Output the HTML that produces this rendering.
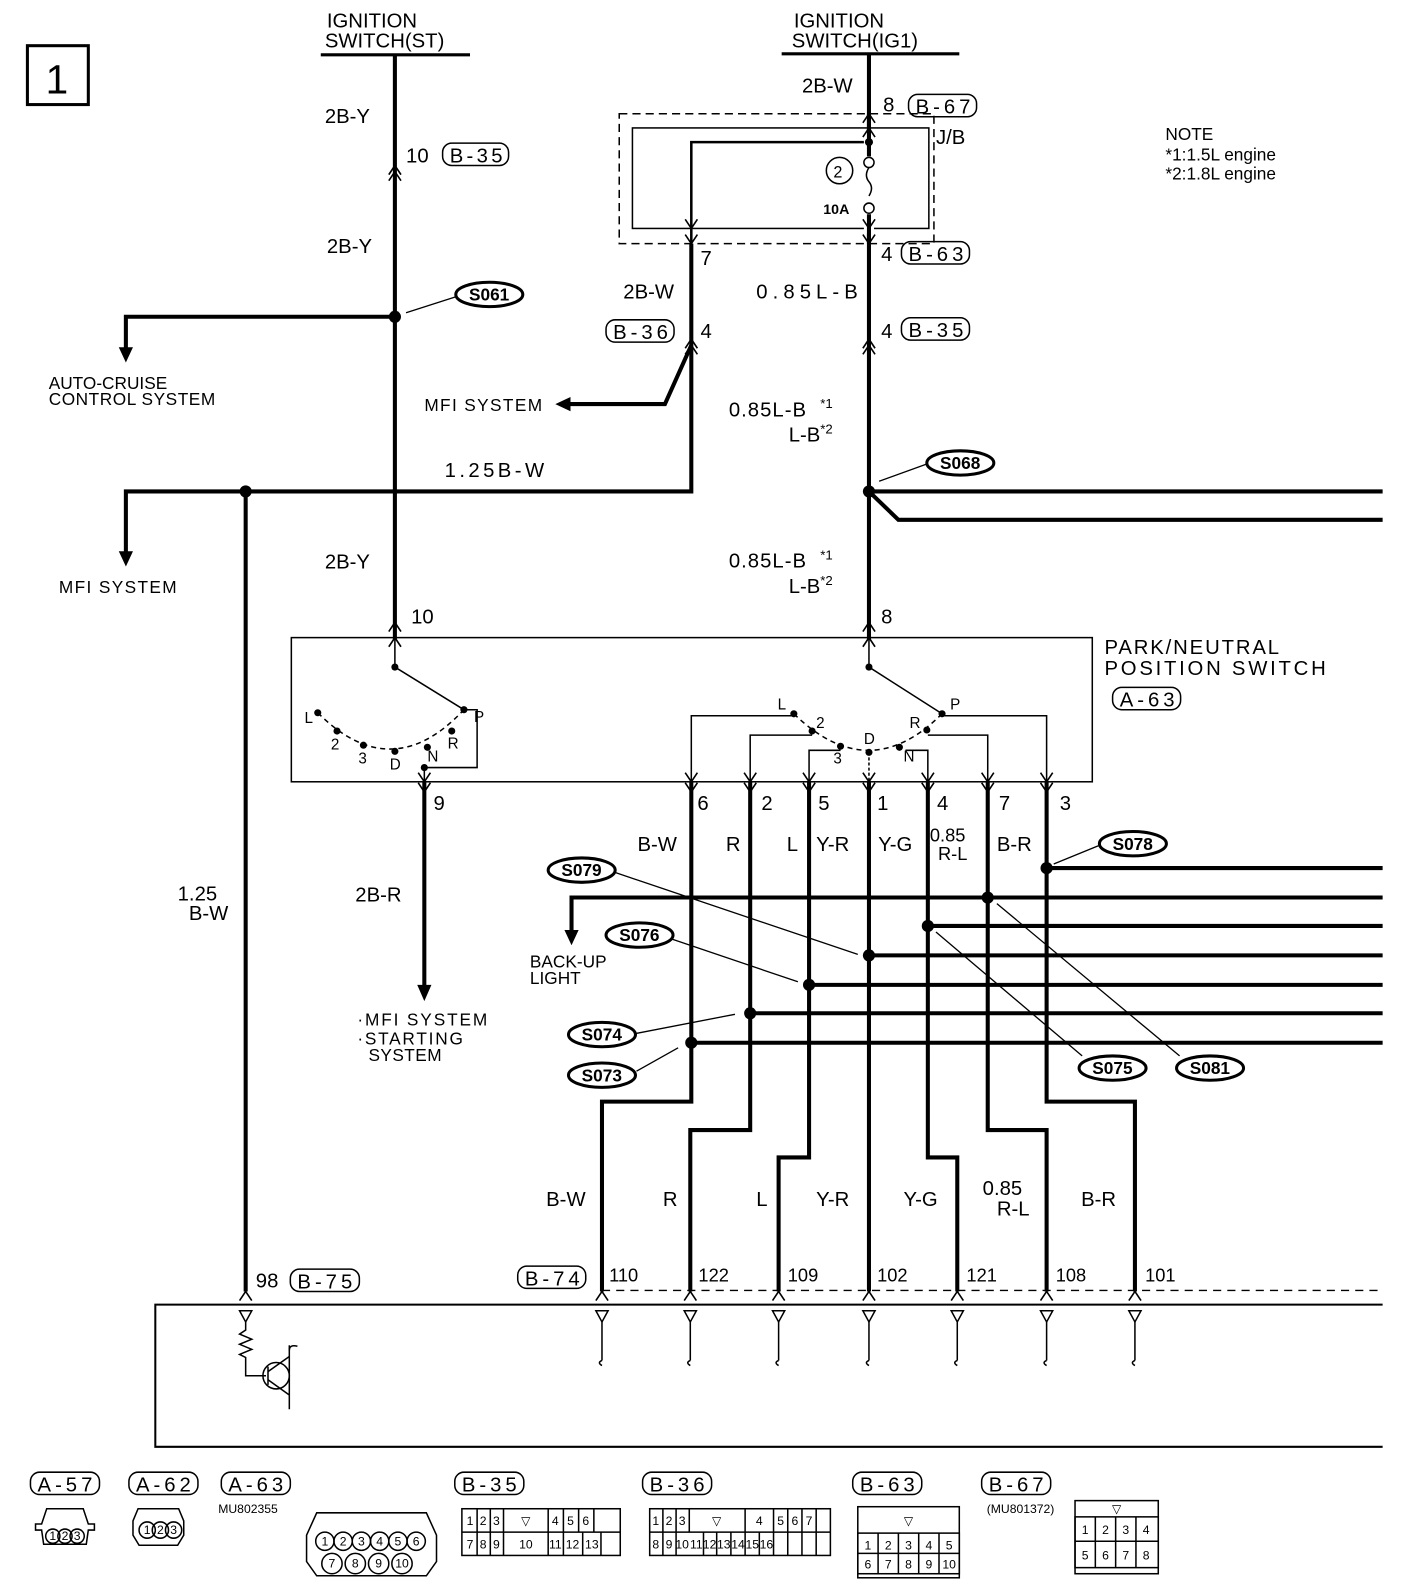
<!DOCTYPE html>
<html><head><meta charset="utf-8"><style>
html,body{margin:0;padding:0;background:#fff;}
svg{display:block}
text{font-family:"Liberation Sans",sans-serif;fill:#000}
</style></head><body>
<svg width="1408" height="1592" viewBox="0 0 1387 1568" preserveAspectRatio="none" xmlns="http://www.w3.org/2000/svg">
<defs>
<g id="up"><polyline points="-6,9 0,0 6,9" fill="none" stroke="#000" stroke-width="1.6"/></g>
<g id="dn"><polyline points="-6,-9 0,0 6,-9" fill="none" stroke="#000" stroke-width="1.6"/></g>
<g id="dup"><polyline points="-6,9 0,0 6,9" fill="none" stroke="#000" stroke-width="1.6"/><polyline points="-6,15 0,6 6,15" fill="none" stroke="#000" stroke-width="1.6"/></g>
</defs>
<g font-size="20">
<rect x="27" y="45" width="60" height="58" fill="none" stroke="#000" stroke-width="3"/>
<text x="45" y="92" font-size="40">1</text>

<text x="322" y="27">IGNITION</text><text x="320" y="47">SWITCH(ST)</text>
<line x1="316" y1="54" x2="463" y2="54" stroke="#000" stroke-width="3"/>
<text x="782" y="27">IGNITION</text><text x="780" y="47">SWITCH(IG1)</text>
<line x1="770" y1="53" x2="945" y2="53" stroke="#000" stroke-width="3"/>

<text x="1148" y="138" font-size="17">NOTE</text>
<text x="1148" y="158" font-size="17">*1:1.5L engine</text>
<text x="1148" y="177" font-size="17">*2:1.8L engine</text>

<g stroke="#000" stroke-width="4" fill="none">
<line x1="389" y1="54" x2="389" y2="630"/>
<polyline points="389,312 124,312 124,345"/>
<polyline points="124,545 124,484 681,484 681,240"/>
<line x1="242" y1="484" x2="242" y2="1272"/>
<polyline points="681,340 655,398 560,398"/>
<line x1="856" y1="54" x2="856" y2="630"/>
<line x1="856" y1="484" x2="1362" y2="484"/>
<polyline points="856,484 885,512 1362,512"/>
<line x1="418" y1="770" x2="418" y2="972"/>
<polyline points="681,770 681,1085 593,1085 593,1272"/>
<polyline points="739,770 739,1113 680,1113 680,1272"/>
<polyline points="797,770 797,1140 767,1140 767,1272"/>
<line x1="856" y1="770" x2="856" y2="1272"/>
<polyline points="914,770 914,1140 943,1140 943,1272"/>
<polyline points="973,770 973,1113 1031,1113 1031,1272"/>
<polyline points="1031,770 1031,1085 1118,1085 1118,1272"/>
<line x1="1031" y1="855" x2="1362" y2="855"/>
<polyline points="563,918 563,884 1362,884"/>
<line x1="914" y1="912" x2="1362" y2="912"/>
<line x1="856" y1="941" x2="1362" y2="941"/>
<line x1="797" y1="970" x2="1362" y2="970"/>
<line x1="739" y1="998" x2="1362" y2="998"/>
<line x1="681" y1="1027" x2="1362" y2="1027"/>
</g>
<g fill="#000">
<polygon points="117,342 131,342 124,357"/>
<polygon points="117,543 131,543 124,558"/>
<polygon points="562,391 562,405 547,398"/>
<polygon points="411,970 425,970 418,986"/>
<polygon points="556,916 570,916 563,931"/>
<circle cx="389" cy="312" r="6"/><circle cx="242" cy="484" r="6"/><circle cx="856" cy="484" r="6"/>
<circle cx="1031" cy="855" r="6"/><circle cx="973" cy="884" r="6"/><circle cx="914" cy="912" r="6"/>
<circle cx="856" cy="941" r="6"/><circle cx="797" cy="970" r="6"/><circle cx="739" cy="998" r="6"/><circle cx="681" cy="1027" r="6"/>
</g>

<rect x="610" y="112" width="310" height="128" fill="none" stroke="#000" stroke-width="1.5" stroke-dasharray="8,5"/>
<rect x="623" y="126" width="292" height="99" fill="none" stroke="#000" stroke-width="1.5"/>
<polyline points="681,240 681,140 856,140" fill="none" stroke="#000" stroke-width="2.5"/>
<rect x="851" y="130" width="10" height="100" fill="#fff"/>
<line x1="856" y1="112" x2="856" y2="154" stroke="#000" stroke-width="4"/>
<line x1="856" y1="211" x2="856" y2="240" stroke="#000" stroke-width="4"/>
<circle cx="856" cy="140" r="4"/>
<circle cx="856" cy="160" r="5" fill="#fff" stroke="#000" stroke-width="1.5"/>
<path d="M856,165 q-5,8 0,14 q5,6 0,14 " fill="none" stroke="#000" stroke-width="1.5"/>
<circle cx="856" cy="205" r="5" fill="#fff" stroke="#000" stroke-width="1.5"/>
<circle cx="827" cy="168" r="13" fill="none" stroke="#000" stroke-width="1.5"/>
<text x="821" y="175" font-size="16">2</text>
<text x="811" y="211" font-size="14" font-weight="bold">10A</text>
<text x="922" y="142">J/B</text>
<use href="#up" x="856" y="112"/><use href="#up" x="856" y="126"/>
<use href="#dn" x="681" y="225"/><use href="#dn" x="681" y="240"/>
<use href="#dn" x="856" y="225"/><use href="#dn" x="856" y="240"/>
<use href="#dup" x="389" y="163"/><use href="#dup" x="856" y="334"/><use href="#dup" x="681" y="334"/>

<text x="320" y="121">2B-Y</text>
<text x="400" y="160">10</text>
<rect x="436" y="141" width="65" height="22" rx="9" fill="none" stroke="#000" stroke-width="1.5"/><text x="443" y="160" textLength="52">B-35</text>
<text x="322" y="249">2B-Y</text>
<text x="790" y="91">2B-W</text>
<text x="870" y="110">8</text>
<rect x="895" y="93" width="67" height="22" rx="9" fill="none" stroke="#000" stroke-width="1.5"/><text x="902" y="112" textLength="54">B-67</text>
<text x="690" y="261">7</text>
<text x="868" y="257">4</text>
<rect x="888" y="238" width="67" height="22" rx="9" fill="none" stroke="#000" stroke-width="1.5"/><text x="895" y="257" textLength="54">B-63</text>
<text x="614" y="294">2B-W</text>
<text x="745" y="294" textLength="100">0.85L-B</text>
<rect x="597" y="315" width="67" height="22" rx="9" fill="none" stroke="#000" stroke-width="1.5"/><text x="604" y="334" textLength="54">B-36</text>
<text x="690" y="333">4</text>
<text x="868" y="333">4</text>
<rect x="888" y="313" width="67" height="22" rx="9" fill="none" stroke="#000" stroke-width="1.5"/><text x="895" y="332" textLength="54">B-35</text>
<text x="48" y="383" font-size="17">AUTO-CRUISE</text>
<text x="48" y="399" font-size="17" textLength="164">CONTROL SYSTEM</text>
<text x="418" y="405" font-size="17" textLength="116">MFI SYSTEM</text>
<text x="718" y="410" textLength="76">0.85L-B</text><text x="808" y="402" font-size="13">*1</text>
<text x="777" y="435">L-B</text><text x="808" y="427" font-size="13">*2</text>
<text x="438" y="470" textLength="98">1.25B-W</text>
<text x="58" y="584" font-size="17" textLength="116">MFI SYSTEM</text>
<text x="320" y="560">2B-Y</text>
<text x="718" y="559" textLength="76">0.85L-B</text><text x="808" y="551" font-size="13">*1</text>
<text x="777" y="584">L-B</text><text x="808" y="576" font-size="13">*2</text>
<text x="405" y="614">10</text><text x="868" y="614">8</text>

<g stroke="#000" stroke-width="1.3" fill="none">
<line x1="453" y1="291" x2="400" y2="308"/>
<line x1="913" y1="457" x2="866" y2="474"/>
<line x1="605" y1="859" x2="845" y2="940"/>
<line x1="662" y1="925" x2="786" y2="967"/>
<line x1="626" y1="1018" x2="724" y2="999"/>
<line x1="627" y1="1055" x2="668" y2="1032"/>
<line x1="1082" y1="833" x2="1038" y2="851"/>
<line x1="1066" y1="1040" x2="922" y2="918"/>
<line x1="1162" y1="1040" x2="982" y2="890"/>
</g>
<g stroke="#000" stroke-width="3" fill="#fff">
<ellipse cx="482" cy="290" rx="33" ry="12"/><ellipse cx="946" cy="456" rx="33" ry="12"/>
<ellipse cx="1116" cy="831" rx="33" ry="12"/><ellipse cx="573" cy="857" rx="33" ry="12"/>
<ellipse cx="630" cy="921" rx="33" ry="12"/><ellipse cx="593" cy="1019" rx="33" ry="12"/>
<ellipse cx="593" cy="1059" rx="33" ry="12"/><ellipse cx="1096" cy="1052" rx="33" ry="12"/>
<ellipse cx="1192" cy="1052" rx="33" ry="12"/>
</g>
<g font-weight="bold" font-size="17">
<text x="462" y="296">S061</text><text x="926" y="462">S068</text><text x="1096" y="837">S078</text>
<text x="553" y="863">S079</text><text x="610" y="927">S076</text><text x="573" y="1025">S074</text>
<text x="573" y="1065">S073</text><text x="1076" y="1058">S075</text><text x="1172" y="1058">S081</text>
</g>

<rect x="287" y="628" width="789" height="142" fill="none" stroke="#000" stroke-width="1.5"/>
<text x="1088" y="644" textLength="172">PARK/NEUTRAL</text><text x="1088" y="665" textLength="218">POSITION SWITCH</text>
<rect x="1096" y="677" width="67" height="22" rx="9" fill="none" stroke="#000" stroke-width="1.5"/><text x="1103" y="696" textLength="54">A-63</text>
<use href="#up" x="389" y="628"/><use href="#up" x="389" y="613"/>
<use href="#up" x="856" y="628"/><use href="#up" x="856" y="613"/>
<g stroke="#000" stroke-width="1.5" fill="none">
<polyline points="389,628 389,657 457,699"/>
<path d="M313,702 Q386,775 457,699" stroke-dasharray="5,4"/>
<polyline points="418,770 418,756 470,756 470,699 457,699"/>
<polyline points="856,628 856,657 928,703"/>
<path d="M782,703 Q856,775 928,703" stroke-dasharray="5,4"/>
<polyline points="681,770 681,705 782,705"/>
<polyline points="739,770 739,724 800,724"/>
<polyline points="797,770 797,739 828,739"/>
<line x1="856" y1="741" x2="856" y2="770" stroke-dasharray="3,2"/>
<polyline points="914,770 914,739 892,739"/>
<polyline points="973,770 973,724 914,724"/>
<polyline points="1031,770 1031,705 928,705"/>
</g>
<g fill="#000">
<circle cx="313" cy="702" r="3.5"/><circle cx="332" cy="720" r="3.5"/><circle cx="358" cy="734" r="3.5"/><circle cx="389" cy="740" r="3.5"/><circle cx="421" cy="736" r="3.5"/><circle cx="445" cy="720" r="3.5"/><circle cx="457" cy="699" r="3.5"/><circle cx="418" cy="756" r="3.5"/><circle cx="389" cy="657" r="3.5"/>
<circle cx="782" cy="703" r="3.5"/><circle cx="800" cy="720" r="3.5"/><circle cx="828" cy="735" r="3.5"/><circle cx="856" cy="741" r="3.5"/><circle cx="886" cy="736" r="3.5"/><circle cx="913" cy="719" r="3.5"/><circle cx="928" cy="703" r="3.5"/><circle cx="856" cy="657" r="3.5"/>
</g>
<g font-size="15">
<text x="300" y="712">L</text><text x="326" y="738">2</text><text x="353" y="752">3</text><text x="384" y="758">D</text><text x="421" y="750">N</text><text x="441" y="737">R</text><text x="467" y="711">P</text>
<text x="766" y="699">L</text><text x="804" y="717">2</text><text x="821" y="752">3</text><text x="851" y="733">D</text><text x="890" y="750">N</text><text x="896" y="717">R</text><text x="936" y="699">P</text>
</g>
<use href="#dn" x="418" y="770"/><use href="#dn" x="418" y="780"/>
<g><use href="#dn" x="681" y="770"/><use href="#dn" x="739" y="770"/><use href="#dn" x="797" y="770"/><use href="#dn" x="856" y="770"/><use href="#dn" x="914" y="770"/><use href="#dn" x="973" y="770"/><use href="#dn" x="1031" y="770"/>
<use href="#dn" x="681" y="780"/><use href="#dn" x="739" y="780"/><use href="#dn" x="797" y="780"/><use href="#dn" x="856" y="780"/><use href="#dn" x="914" y="780"/><use href="#dn" x="973" y="780"/><use href="#dn" x="1031" y="780"/></g>
<text x="427" y="798">9</text><text x="687" y="798">6</text><text x="750" y="798">2</text><text x="806" y="798">5</text><text x="864" y="798">1</text><text x="923" y="798">4</text><text x="984" y="798">7</text><text x="1044" y="798">3</text>
<text x="628" y="838">B-W</text><text x="715" y="838">R</text><text x="775" y="838">L</text><text x="804" y="838">Y-R</text><text x="865" y="838">Y-G</text>
<text x="916" y="829" font-size="18">0.85</text><text x="924" y="847" font-size="18">R-L</text><text x="982" y="838">B-R</text>
<text x="350" y="888">2B-R</text>
<text x="175" y="887">1.25</text><text x="186" y="906">B-W</text>
<text x="522" y="953" font-size="17">BACK-UP</text><text x="522" y="969" font-size="17">LIGHT</text>
<text x="352" y="1010" font-size="17" textLength="128">·MFI SYSTEM</text><text x="352" y="1029" font-size="17" textLength="104">·STARTING</text><text x="363" y="1045" font-size="17" textLength="72">SYSTEM</text>

<text x="538" y="1188">B-W</text><text x="653" y="1188">R</text><text x="745" y="1188">L</text><text x="804" y="1188">Y-R</text><text x="890" y="1188">Y-G</text>
<text x="968" y="1177">0.85</text><text x="982" y="1197">R-L</text><text x="1065" y="1188">B-R</text>
<text x="252" y="1268">98</text>
<rect x="286" y="1250" width="68" height="22" rx="9" fill="none" stroke="#000" stroke-width="1.5"/><text x="293" y="1269" textLength="54">B-75</text>
<rect x="510" y="1247" width="67" height="22" rx="9" fill="none" stroke="#000" stroke-width="1.5"/><text x="517" y="1266" textLength="54">B-74</text>
<g font-size="18"><text x="600" y="1262">110</text><text x="688" y="1262">122</text><text x="776" y="1262">109</text><text x="864" y="1262">102</text><text x="952" y="1262">121</text><text x="1040" y="1262">108</text><text x="1128" y="1262">101</text></g>

<line x1="593" y1="1271" x2="1362" y2="1271" stroke="#000" stroke-width="1.3" stroke-dasharray="8,6"/>
<polyline points="1362,1285 153,1285 153,1425 1362,1425" fill="none" stroke="#000" stroke-width="2"/>
<g>
<use href="#up" x="242" y="1272"/><use href="#up" x="593" y="1272"/><use href="#up" x="680" y="1272"/><use href="#up" x="767" y="1272"/><use href="#up" x="856" y="1272"/><use href="#up" x="943" y="1272"/><use href="#up" x="1031" y="1272"/><use href="#up" x="1118" y="1272"/>
</g>
<g stroke="#000" stroke-width="1.5" fill="none">
<path d="M236,1291 h12 l-6,11 z"/><polyline points="242,1302 242,1310 236,1314 248,1319 236,1324 248,1329 236,1334 242,1337 242,1355 262,1355"/>
<circle cx="272" cy="1355" r="13"/><line x1="264" y1="1346" x2="264" y2="1364"/><line x1="264" y1="1351" x2="285" y2="1336"/><line x1="264" y1="1359" x2="285" y2="1374"/><polyline points="285,1325 285,1388"/><path d="M285,1330 q0,-6 8,-4"/>
<path d="M587,1291 h12 l-6,11 z"/><line x1="593" y1="1302" x2="593" y2="1340"/><path d="M593,1340 q-5,2 0,5"/>
<path d="M674,1291 h12 l-6,11 z"/><line x1="680" y1="1302" x2="680" y2="1340"/><path d="M680,1340 q-5,2 0,5"/>
<path d="M761,1291 h12 l-6,11 z"/><line x1="767" y1="1302" x2="767" y2="1340"/><path d="M767,1340 q-5,2 0,5"/>
<path d="M850,1291 h12 l-6,11 z"/><line x1="856" y1="1302" x2="856" y2="1340"/><path d="M856,1340 q-5,2 0,5"/>
<path d="M937,1291 h12 l-6,11 z"/><line x1="943" y1="1302" x2="943" y2="1340"/><path d="M943,1340 q-5,2 0,5"/>
<path d="M1025,1291 h12 l-6,11 z"/><line x1="1031" y1="1302" x2="1031" y2="1340"/><path d="M1031,1340 q-5,2 0,5"/>
<path d="M1112,1291 h12 l-6,11 z"/><line x1="1118" y1="1302" x2="1118" y2="1340"/><path d="M1118,1340 q-5,2 0,5"/>
</g>

<g font-size="20">
<rect x="30" y="1450" width="68" height="22" rx="9" fill="none" stroke="#000" stroke-width="1.5"/><text x="37" y="1469" textLength="54">A-57</text>
<rect x="127" y="1450" width="68" height="22" rx="9" fill="none" stroke="#000" stroke-width="1.5"/><text x="134" y="1469" textLength="54">A-62</text>
<rect x="218" y="1450" width="68" height="22" rx="9" fill="none" stroke="#000" stroke-width="1.5"/><text x="225" y="1469" textLength="54">A-63</text>
<rect x="448" y="1450" width="68" height="22" rx="9" fill="none" stroke="#000" stroke-width="1.5"/><text x="455" y="1469" textLength="54">B-35</text>
<rect x="633" y="1450" width="68" height="22" rx="9" fill="none" stroke="#000" stroke-width="1.5"/><text x="640" y="1469" textLength="54">B-36</text>
<rect x="840" y="1450" width="68" height="22" rx="9" fill="none" stroke="#000" stroke-width="1.5"/><text x="847" y="1469" textLength="54">B-63</text>
<rect x="967" y="1450" width="68" height="22" rx="9" fill="none" stroke="#000" stroke-width="1.5"/><text x="974" y="1469" textLength="54">B-67</text>
</g>
<text x="215" y="1490" font-size="12">MU802355</text>
<text x="972" y="1490" font-size="12">(MU801372)</text>
<g stroke="#000" stroke-width="1.5" fill="none">
<path d="M46,1486 h36 l5,15 h6 v6 h-6 l-2,14 h-42 l-2,-14 h-6 v-6 h6 z"/>
<circle cx="52" cy="1513" r="7"/><circle cx="64" cy="1513" r="7"/><circle cx="76" cy="1513" r="7"/>
<path d="M136,1486 h40 l5,12 v14 l-6,10 h-38 l-6,-10 v-14 z"/>
<circle cx="145" cy="1507" r="8"/><circle cx="158" cy="1507" r="8"/><circle cx="171" cy="1507" r="8"/>
<path d="M312,1490 h108 l10,22 v26 l-10,14 h-108 l-10,-14 v-26 z"/>
<circle cx="320" cy="1518" r="9"/><circle cx="338" cy="1518" r="9"/><circle cx="356" cy="1518" r="9"/><circle cx="374" cy="1518" r="9"/><circle cx="392" cy="1518" r="9"/><circle cx="410" cy="1518" r="9"/>
<circle cx="327" cy="1540" r="10"/><circle cx="350" cy="1540" r="10"/><circle cx="373" cy="1540" r="10"/><circle cx="396" cy="1540" r="10"/>
<rect x="455" y="1486" width="156" height="46"/><line x1="455" y1="1509" x2="611" y2="1509"/>
<path d="M470,1486v46M483,1486v46M496,1486v46M540,1486v46M555,1486v46M570,1486v23M585,1486v23M574,1509v23M592,1509v23"/>
<rect x="640" y="1486" width="178" height="46"/><line x1="640" y1="1509" x2="818" y2="1509"/>
<path d="M653,1486v46M666,1486v46M679,1486v23M693,1509v23M706,1509v23M720,1509v23M734,1486v46M748,1509v23M762,1486v46M776,1486v46M790,1486v46M804,1486v46"/>
<rect x="845" y="1484" width="100" height="70"/><rect x="845" y="1510" width="100" height="40"/><line x1="845" y1="1530" x2="945" y2="1530"/>
<path d="M865,1510v40M885,1510v40M905,1510v40M925,1510v40"/>
<rect x="1059" y="1478" width="82" height="72"/><rect x="1059" y="1494" width="82" height="50"/><line x1="1059" y1="1518" x2="1141" y2="1518"/>
<path d="M1079,1494v50M1099,1494v50M1119,1494v50"/>
</g>
<g font-size="12" text-anchor="middle">
<text x="52" y="1517">1</text><text x="64" y="1517">2</text><text x="76" y="1517">3</text>
<text x="145" y="1511">1</text><text x="158" y="1511">2</text><text x="171" y="1511">3</text>
<text x="320" y="1522">1</text><text x="338" y="1522">2</text><text x="356" y="1522">3</text><text x="374" y="1522">4</text><text x="392" y="1522">5</text><text x="410" y="1522">6</text>
<text x="327" y="1544">7</text><text x="350" y="1544">8</text><text x="373" y="1544">9</text><text x="396" y="1544">10</text>
<text x="463" y="1502">1</text><text x="476" y="1502">2</text><text x="489" y="1502">3</text><text x="518" y="1502">▽</text><text x="547" y="1502">4</text><text x="562" y="1502">5</text><text x="577" y="1502">6</text>
<text x="463" y="1525">7</text><text x="476" y="1525">8</text><text x="489" y="1525">9</text><text x="518" y="1525">10</text><text x="547" y="1525">11</text><text x="564" y="1525">12</text><text x="583" y="1525">13</text>
<text x="646" y="1502">1</text><text x="659" y="1502">2</text><text x="672" y="1502">3</text><text x="706" y="1502">▽</text><text x="748" y="1502">4</text><text x="769" y="1502">5</text><text x="783" y="1502">6</text><text x="797" y="1502">7</text>
<text x="646" y="1525">8</text><text x="659" y="1525">9</text><text x="672" y="1525">10</text><text x="686" y="1525">11</text><text x="699" y="1525">12</text><text x="713" y="1525">13</text><text x="727" y="1525">14</text><text x="741" y="1525">15</text><text x="755" y="1525">16</text>
<text x="895" y="1502">▽</text>
<text x="855" y="1526">1</text><text x="875" y="1526">2</text><text x="895" y="1526">3</text><text x="915" y="1526">4</text><text x="935" y="1526">5</text>
<text x="855" y="1545">6</text><text x="875" y="1545">7</text><text x="895" y="1545">8</text><text x="915" y="1545">9</text><text x="935" y="1545">10</text>
<text x="1100" y="1490">▽</text>
<text x="1069" y="1511">1</text><text x="1089" y="1511">2</text><text x="1109" y="1511">3</text><text x="1129" y="1511">4</text>
<text x="1069" y="1536">5</text><text x="1089" y="1536">6</text><text x="1109" y="1536">7</text><text x="1129" y="1536">8</text>
</g>
</g>
</svg>
</body></html>
